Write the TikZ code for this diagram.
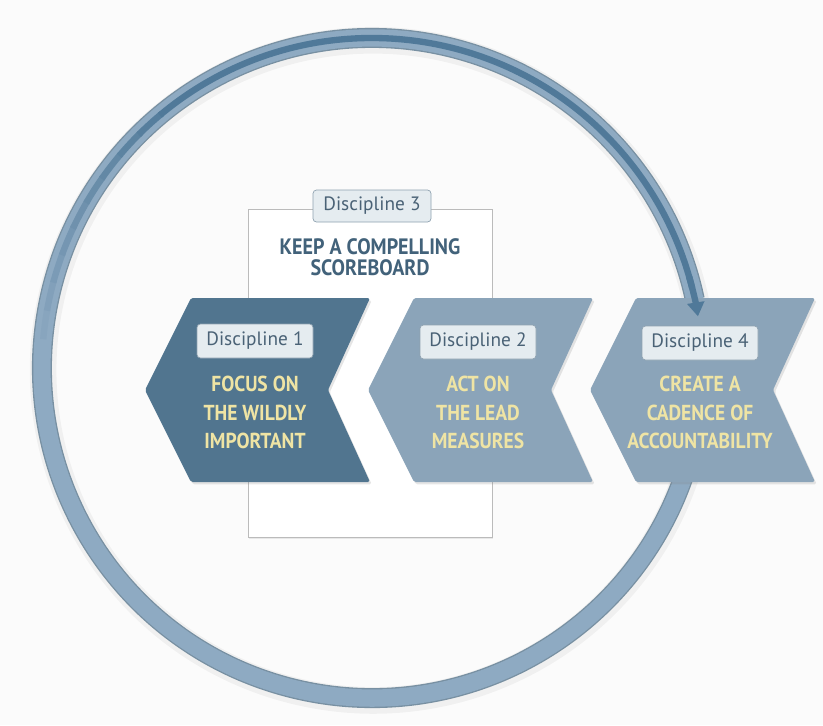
\documentclass[tikz,border=0pt]{standalone}
\usepackage{fontspec}
\setmainfont{PT Sans}
\newfontfamily\capsfont[FakeStretch=0.9]{PT Sans}
\usetikzlibrary{arrows.meta,shadows}
\definecolor{bgc}{HTML}{FBFBFB}
\definecolor{ringlight}{HTML}{8EAAC2}
\definecolor{ringedge}{HTML}{7890A2}
\definecolor{ringdark}{HTML}{507999}
\definecolor{chevdark}{HTML}{51758F}
\definecolor{chevlight}{HTML}{8BA4B9}
\definecolor{yel}{HTML}{EFE4A4}
\definecolor{lblfill}{HTML}{E5ECF0}
\definecolor{lblborder}{HTML}{8FA2B0}
\definecolor{lbltext}{HTML}{4A6276}
\definecolor{dthree}{HTML}{42627A}
\definecolor{rectborder}{HTML}{BBBBBB}
\begin{document}
\begin{tikzpicture}[x=0.03cm,y=-0.03cm,
  chevshape/.style={rounded corners=1.5pt, drop shadow={opacity=0.2, shadow xshift=1.5pt, shadow yshift=-2pt}},
  lbl/.style={draw=lblborder, fill=lblfill, rounded corners=3pt, line width=0.6pt,
     minimum width=3.48cm, minimum height=1.02cm, inner sep=0pt, text=lbltext,
     font=\fontsize{16.5}{19}\selectfont},
  chevtext/.style={align=center, text=yel, font=\capsfont\bfseries\fontsize{18.5}{24.5}\selectfont},
  ringedgestyle/.style={line width=0.6cm, color=ringedge},
  ringband/.style={line width=0.52cm, color=ringlight},
  ringcore/.style={line width=0.19cm, color=ringdark}]
\useasboundingbox (0,0) rectangle (823,725);
\fill[bgc] (0,0) rectangle (823,725);

\coordinate (ctr) at (372,368);
% ring
\draw[line width=0.8cm, black, opacity=0.045] ([xshift=1pt,yshift=-2pt]ctr) ++(15:330) arc[start angle=15, end angle=348, radius=330];
\draw[ringedgestyle] (ctr) ++(15:330) arc[start angle=15, end angle=348, radius=330];
\draw[ringband] (ctr) ++(15:330) arc[start angle=15, end angle=348.5, radius=330];
\foreach \a/\pc in {185/10,190/20,195/30,200/40,205/50,210/60,215/70,220/80,225/90}{
  \draw[ringcore, color=ringdark!\pc!ringlight] (ctr) ++(\a:330) arc[start angle=\a, end angle=\a+5.4, radius=330];
}
\draw[ringcore] (ctr) ++(230:330) arc[start angle=230, end angle=346, radius=330];

% Discipline 3 board
\draw[draw=rectborder, fill=white, line width=0.8pt, drop shadow={opacity=0.15, shadow xshift=1pt, shadow yshift=-1.5pt}] (248,209) rectangle (492,537);
\node[lbl, minimum width=3.54cm, minimum height=0.96cm] (l3) at (372,206) {Discipline 3};
\node[align=center, text=dthree, font=\capsfont\bfseries\fontsize{19}{18}\selectfont] (t3) at (370,257.5) {KEEP A COMPELLING\\SCOREBOARD};

% chevrons
\foreach \xo/\col/\nm in {145/chevdark/c1, 368/chevlight/c2, 590/chevlight/c4}{
  \fill[\col, chevshape] (\xo,390) -- (\xo+46,298) -- (\xo+225,298) -- (\xo+183,390) -- (\xo+225,482) -- (\xo+46,482) -- cycle;
}
\node[lbl] (l1) at (255,341) {Discipline 1};
\node[lbl] (l2) at (478,342) {Discipline 2};
\node[lbl] (l4) at (700,343) {Discipline 4};
\node[chevtext] (t1) at (255,412.5) {FOCUS ON\\THE WILDLY\\IMPORTANT};
\node[chevtext] (t2) at (478,412.5) {ACT ON\\THE LEAD\\MEASURES};
\node[chevtext] (t4) at (700,412.5) {CREATE A\\CADENCE OF\\ACCOUNTABILITY};

% arrow head over Discipline 4
\draw[ringcore, -{Triangle[width=0.5cm,length=0.42cm]}] (ctr) ++(344:330) arc[start angle=344, end angle=351, radius=330];
\end{tikzpicture}
\end{document}
